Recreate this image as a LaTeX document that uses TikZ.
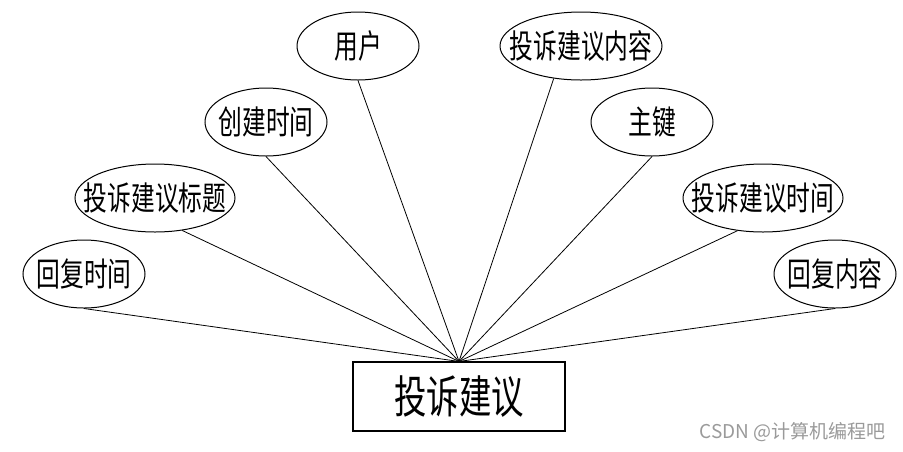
\documentclass[tikz,border=0pt]{standalone}
\usepackage{fontspec}
\newfontfamily\cjk[FakeStretch=0.72]{Noto Sans CJK SC}
\newfontfamily\cjkmark{Noto Sans CJK SC}
\usepackage{tikz}
\usetikzlibrary{shapes.geometric}
\definecolor{markgrey}{HTML}{9A9A9A}
\newcommand{\attrtxt}[1]{\makebox[0pt]{#1}}

\begin{document}
\begin{tikzpicture}[x=1pt,y=-1pt,
  ent/.style={draw,line width=1.1pt,minimum width=212pt,minimum height=69pt,
              inner sep=0pt,font=\cjk\fontsize{45}{49}\selectfont},
  att/.style={draw,ellipse,line width=1pt,inner sep=0pt,minimum height=68pt,
              font=\cjk\fontsize{33}{37}\selectfont},
  ln/.style={line width=0.8pt},
]
\useasboundingbox (0,0) rectangle (903,451);

\node[ent] (jy) at (459,396.5) {投诉建议};

\node[att,minimum width=122pt] (hfsj) at (84,274) {\attrtxt{回复时间}};
\node[att,minimum width=160pt] (bt) at (155,198) {\attrtxt{投诉建议标题}};
\node[att,minimum width=122pt] (cjsj) at (266,122) {\attrtxt{创建时间}};
\node[att,minimum width=122pt] (yh) at (358,46) {\attrtxt{用户}};
\node[att,minimum width=162pt] (nr) at (581,46) {\attrtxt{投诉建议内容}};
\node[att,minimum width=122pt] (zj) at (652,122) {\attrtxt{主键}};
\node[att,minimum width=160pt] (tssj) at (763,198) {\attrtxt{投诉建议时间}};
\node[att,minimum width=122pt] (hfnr) at (835,274) {\attrtxt{回复内容}};

\draw[ln] (hfsj.south) -- (jy.north);
\draw[ln] (bt.-50) -- (jy.north);
\draw[ln] (cjsj.south) -- (jy.north);
\draw[ln] (yh.south) -- (jy.north);
\draw[ln] (nr.-130) -- (jy.north);
\draw[ln] (zj.south) -- (jy.north);
\draw[ln] (tssj.-128) -- (jy.north);
\draw[ln] (hfnr.south) -- (jy.north);

\node[anchor=east,text=markgrey,font=\cjkmark\fontsize{19}{22}\selectfont]
  (mark) at (889,432) {CSDN @计算机编程吧};
\end{tikzpicture}
\end{document}
